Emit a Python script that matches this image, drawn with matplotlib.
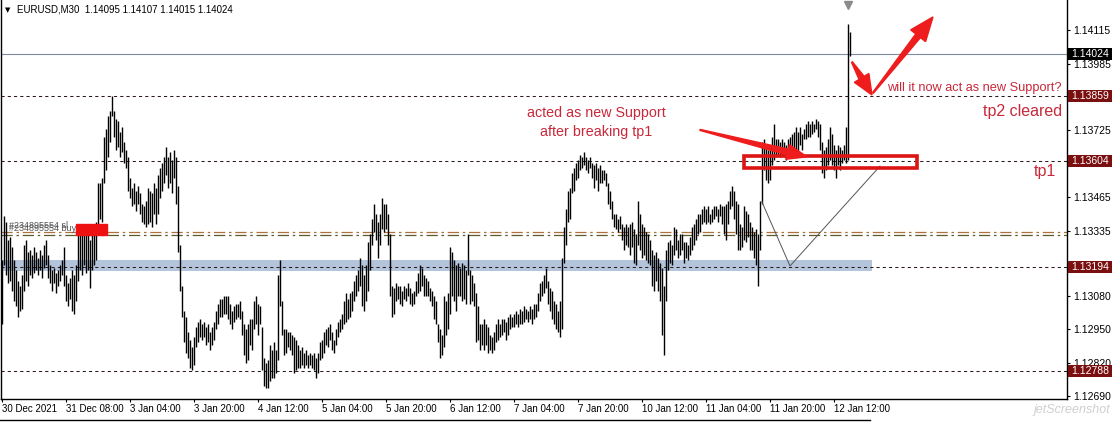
import numpy as np
import matplotlib.pyplot as plt
from matplotlib.patches import Polygon, Rectangle
from matplotlib.transforms import IdentityTransform, blended_transform_factory
from matplotlib.lines import Line2D

plt.rcParams['font.family'] = ['Liberation Sans', 'DejaVu Sans']

# EURUSD M30 bars, 30 Dec 2021 16:00 .. 12 Jan 2022 16:00
high = [
    1.1322, 1.1339, 1.1337, 1.1330, 1.1331, 1.1327, 1.1322, 1.1318, 1.1314, 1.1312,
    1.1316, 1.1328, 1.1330, 1.1325, 1.1326, 1.1324, 1.1327, 1.1325, 1.1323, 1.1326,
    1.1324, 1.1328, 1.1330, 1.1324, 1.1320, 1.1318, 1.1319, 1.1317, 1.1318, 1.1320,
    1.1322, 1.1327, 1.1316, 1.1313, 1.1315, 1.1318, 1.1316, 1.1320, 1.1334, 1.1335,
    1.1334, 1.1333, 1.1332, 1.1334, 1.1330, 1.1332, 1.1335, 1.1337, 1.1352, 1.1352,
    1.1354, 1.1370, 1.1373, 1.1378, 1.1380, 1.1386, 1.1380, 1.1377, 1.1376, 1.1372,
    1.1374, 1.1368, 1.1365, 1.1362, 1.1354, 1.1350, 1.1352, 1.1349, 1.1351, 1.1348,
    1.1344, 1.1343, 1.1345, 1.1350, 1.1349, 1.1348, 1.1352, 1.1350, 1.1355, 1.1358,
    1.1360, 1.1362, 1.1366, 1.1362, 1.1364, 1.1361, 1.1365, 1.1362, 1.1351, 1.1328,
    1.1312, 1.1302, 1.1300, 1.1294, 1.1291, 1.1288, 1.1292, 1.1296, 1.1298, 1.1299,
    1.1297, 1.1298, 1.1296, 1.1297, 1.1294, 1.1296, 1.1298,
    1.1302, 1.1305, 1.1307, 1.1307, 1.1308, 1.1308, 1.1308, 1.1305, 1.1302, 1.1304,
    1.1305, 1.1305, 1.1306, 1.1302, 1.1297, 1.1295, 1.1297, 1.1299, 1.1299, 1.1306,
    1.1308, 1.1305, 1.1304, 1.1296, 1.1284, 1.1282, 1.1283, 1.1289, 1.1287, 1.1290,
    1.1287, 1.1316, 1.1322, 1.1306, 1.1295, 1.1295, 1.1294, 1.1294, 1.1293, 1.1292,
    1.1291, 1.1289, 1.1287, 1.1288, 1.1286, 1.1287, 1.1285, 1.1286, 1.1285, 1.1286,
    1.1284, 1.1286, 1.1290, 1.1291, 1.1294, 1.1295, 1.1296, 1.1297, 1.1294, 1.1291,
    1.1295, 1.1298, 1.1299, 1.1301, 1.1306, 1.1309, 1.1307, 1.1309, 1.1310, 1.1314,
    1.1316, 1.1318, 1.1323, 1.1320, 1.1316, 1.1320, 1.1329, 1.1332, 1.1338, 1.1344,
    1.1340, 1.1337, 1.1340, 1.1346, 1.1344, 1.1344, 1.1340, 1.1332, 1.1312, 1.1311,
    1.1313, 1.1312, 1.1312, 1.1310, 1.1312, 1.1311, 1.1313, 1.1311, 1.1309, 1.1310,
    1.1314, 1.1317, 1.1320, 1.1319, 1.1316,
    1.1315, 1.1314, 1.1311, 1.1310, 1.1308, 1.1306, 1.1297, 1.1295, 1.1293, 1.1308,
    1.1306, 1.1309, 1.1327, 1.1325, 1.1322, 1.1320, 1.1321, 1.1319, 1.1321, 1.1320,
    1.1318, 1.1332, 1.1318, 1.1316, 1.1313, 1.1309, 1.1304, 1.1297, 1.1297, 1.1299,
    1.1297, 1.1296, 1.1293, 1.1292, 1.1294, 1.1297, 1.1299, 1.1297, 1.1299, 1.1299,
    1.1298, 1.1300, 1.1301, 1.1300, 1.1301, 1.1302, 1.1301, 1.1303, 1.1302, 1.1304,
    1.1303, 1.1302, 1.1304, 1.1303, 1.1305, 1.1305, 1.1309, 1.1313, 1.1314, 1.1316,
    1.1319, 1.1314, 1.1311, 1.1310, 1.1306, 1.1305, 1.1302, 1.1306, 1.1323, 1.1335,
    1.1342, 1.1349, 1.1350, 1.1356, 1.1358, 1.1360, 1.1361, 1.1363, 1.1362, 1.1364,
    1.1362, 1.1361, 1.1362, 1.1360, 1.1359, 1.1360, 1.1358, 1.1359, 1.1357, 1.1357,
    1.1356, 1.1352, 1.1349, 1.1345, 1.1340, 1.1340, 1.1338, 1.1339, 1.1336, 1.1335,
    1.1336, 1.1335, 1.1336, 1.1337, 1.1334, 1.1332, 1.1345, 1.1340, 1.1336,
    1.1335, 1.1333, 1.1332, 1.1330, 1.1326, 1.1324, 1.1325, 1.1323, 1.1321, 1.1319,
    1.1312, 1.1326, 1.1329, 1.1330, 1.1328, 1.1335, 1.1334, 1.1330, 1.1332, 1.1332,
    1.1329, 1.1329, 1.1328, 1.1331, 1.1335, 1.1336, 1.1338, 1.1340, 1.1340, 1.1342,
    1.1343, 1.1342, 1.1343, 1.1340, 1.1342, 1.1343, 1.1343, 1.1342, 1.1344, 1.1343,
    1.1343, 1.1344, 1.1345, 1.1349, 1.1351, 1.1349, 1.1345, 1.1344, 1.1336, 1.1335,
    1.1343, 1.1341, 1.1340, 1.1337, 1.1335, 1.1333, 1.1334, 1.1332, 1.1345, 1.1368,
    1.1369, 1.1367, 1.1365, 1.1366, 1.1370, 1.1375, 1.1369, 1.1369, 1.1368, 1.1369,
    1.1368, 1.1367, 1.1369, 1.1370, 1.1371, 1.1372, 1.1374, 1.1372, 1.1374, 1.1371,
    1.1373, 1.1375, 1.1376, 1.1375, 1.1376, 1.1375, 1.1377, 1.1376, 1.1375, 1.1368,
    1.1365, 1.1366, 1.1369, 1.1374, 1.1371, 1.1367, 1.1365, 1.1367, 1.1366, 1.1365,
    1.1367, 1.1374, 1.1414, 1.14107,
]
low = [
    1.1297, 1.1320, 1.1316, 1.1313, 1.1314, 1.1310, 1.1306, 1.1304, 1.1300, 1.1302,
    1.1303, 1.1310, 1.1314, 1.1312, 1.1316, 1.1315, 1.1317, 1.1318, 1.1316, 1.1318,
    1.1315, 1.1319, 1.1320, 1.1315, 1.1313, 1.1310, 1.1313, 1.1309, 1.1312, 1.1314,
    1.1316, 1.1312, 1.1306, 1.1304, 1.1307, 1.1302, 1.1301, 1.1306, 1.1314, 1.1318,
    1.1316, 1.1320, 1.1317, 1.1318, 1.1311, 1.1318, 1.1320, 1.1322, 1.1335, 1.1338,
    1.1337, 1.1352, 1.1357, 1.1362, 1.1368, 1.1378, 1.1370, 1.1365, 1.1366, 1.1362,
    1.1364, 1.1360, 1.1358, 1.1349, 1.1346, 1.1343, 1.1344, 1.1341, 1.1344, 1.1340,
    1.1337, 1.1336, 1.1335, 1.1336, 1.1337, 1.1335, 1.1340, 1.1336, 1.1340, 1.1346,
    1.1349, 1.1352, 1.1355, 1.1350, 1.1352, 1.1348, 1.1354, 1.1344, 1.1325, 1.1310,
    1.1300, 1.1290, 1.1286, 1.1284, 1.1280, 1.1279, 1.1281, 1.1288, 1.1290, 1.1292,
    1.1291, 1.1292, 1.1289, 1.1290, 1.1287, 1.1289, 1.1291,
    1.1295, 1.1297, 1.1300, 1.1300, 1.1301, 1.1301, 1.1299, 1.1297, 1.1295, 1.1298,
    1.1299, 1.1300, 1.1299, 1.1293, 1.1285, 1.1282, 1.1283, 1.1289, 1.1287, 1.1295,
    1.1297, 1.1293, 1.1297, 1.1279, 1.1273, 1.1272, 1.1272, 1.1275, 1.1276, 1.1276,
    1.1278, 1.1283, 1.1304, 1.1293, 1.1285, 1.1286, 1.1288, 1.1287, 1.1285, 1.1278,
    1.1279, 1.1280, 1.1280, 1.1281, 1.1280, 1.1281, 1.1280, 1.1281, 1.1280, 1.1279,
    1.1276, 1.1278, 1.1283, 1.1284, 1.1286, 1.1289, 1.1288, 1.1291, 1.1287, 1.1286,
    1.1289, 1.1292, 1.1294, 1.1295, 1.1297, 1.1298, 1.1299, 1.1300, 1.1302, 1.1306,
    1.1308, 1.1310, 1.1312, 1.1304, 1.1302, 1.1306, 1.1310, 1.1318, 1.1328, 1.1333,
    1.1330, 1.1323, 1.1328, 1.1334, 1.1333, 1.1334, 1.1328, 1.1308, 1.1300, 1.1301,
    1.1306, 1.1307, 1.1305, 1.1304, 1.1307, 1.1306, 1.1308, 1.1305, 1.1304, 1.1305,
    1.1308, 1.1309, 1.1310, 1.1312, 1.1308,
    1.1308, 1.1308, 1.1306, 1.1304, 1.1299, 1.1297, 1.1290, 1.1284, 1.1285, 1.1288,
    1.1293, 1.1295, 1.1301, 1.1308, 1.1306, 1.1302, 1.1308, 1.1308, 1.1306, 1.1307,
    1.1305, 1.1316, 1.1305, 1.1306, 1.1304, 1.1290, 1.1291, 1.1287, 1.1289, 1.1287,
    1.1289, 1.1286, 1.1287, 1.1286, 1.1287, 1.1290, 1.1291, 1.1292, 1.1293, 1.1294,
    1.1291, 1.1293, 1.1295, 1.1296, 1.1296, 1.1297, 1.1296, 1.1297, 1.1297, 1.1298,
    1.1299, 1.1298, 1.1299, 1.1297, 1.1299, 1.1300, 1.1302, 1.1306, 1.1308, 1.1309,
    1.1311, 1.1305, 1.1302, 1.1299, 1.1297, 1.1295, 1.1294, 1.1292, 1.1295, 1.1321,
    1.1328, 1.1337, 1.1338, 1.1348, 1.1349, 1.1353, 1.1354, 1.1357, 1.1358, 1.1359,
    1.1357, 1.1356, 1.1358, 1.1354, 1.1350, 1.1353, 1.1349, 1.1352, 1.1352, 1.1353,
    1.1351, 1.1344, 1.1342, 1.1338, 1.1335, 1.1334, 1.1333, 1.1334, 1.1330, 1.1326,
    1.1328, 1.1327, 1.1324, 1.1327, 1.1321, 1.1320, 1.1328, 1.1326, 1.1323,
    1.1324, 1.1322, 1.1321, 1.1320, 1.1312, 1.1310, 1.1314, 1.1310, 1.1306, 1.1293,
    1.1285, 1.1306, 1.1318, 1.1321, 1.1320, 1.1324, 1.1326, 1.1323, 1.1324, 1.1326,
    1.1321, 1.1323, 1.1322, 1.1324, 1.1326, 1.1328, 1.1330, 1.1332, 1.1333, 1.1336,
    1.1337, 1.1336, 1.1337, 1.1336, 1.1337, 1.1338, 1.1339, 1.1337, 1.1339, 1.1336,
    1.1332, 1.1330, 1.1336, 1.1342, 1.1343, 1.1338, 1.1332, 1.1326, 1.1326, 1.1327,
    1.1330, 1.1329, 1.1331, 1.1326, 1.1326, 1.1323, 1.1320, 1.1312, 1.1326, 1.1344,
    1.1357, 1.1353, 1.1352, 1.1353, 1.1359, 1.1361, 1.1362, 1.1363, 1.1362, 1.1363,
    1.1362, 1.1361, 1.1363, 1.1363, 1.1364, 1.1365, 1.1365, 1.1363, 1.1367, 1.1365,
    1.1369, 1.1369, 1.1370, 1.1370, 1.1371, 1.1372, 1.1373, 1.1370, 1.1365, 1.1356,
    1.1354, 1.1357, 1.1359, 1.1361, 1.1359, 1.1357, 1.1354, 1.1359, 1.1357, 1.1360,
    1.1361, 1.1360, 1.1361, 1.14015,
]

time_labels = ['30 Dec 2021', '31 Dec 08:00', '3 Jan 04:00', '3 Jan 20:00', '4 Jan 12:00',
               '5 Jan 04:00', '5 Jan 20:00', '6 Jan 12:00', '7 Jan 04:00', '7 Jan 20:00',
               '10 Jan 12:00', '11 Jan 04:00', '11 Jan 20:00', '12 Jan 12:00']
bars_per_label = 32

price_ticks = [1.14115, 1.13985, 1.13725, 1.13465, 1.13335, 1.13080, 1.12950, 1.12820, 1.12690]
bid = 1.14024
levels = [1.13859, 1.13604, 1.13194, 1.12788]          # tp2, tp1, support, low
zone = (1.13176, 1.13222)                              # blue support band
order_lines = [1.13330, 1.13318]                       # sl / buy lines
trend_x = [380, 394, 439]
trend_y = [1.13446, 1.13197, 1.13586]
box_x, box_y = (371, 457.5), (1.13579, 1.13625)

W, H = 1114, 423
fig = plt.figure(figsize=(W / 100, H / 100), dpi=100)
ax = fig.add_axes([1 / W, 24 / H, 1066 / W, 399 / H])
ax.set_xlim(-0.5, 532.5)
ax.set_ylim(1.126789, 1.142329)

idx = np.arange(len(high))
ax.vlines(idx, low, high, color='black', lw=1.0, zorder=3)

# horizontal lines
ax.axhline(bid, color='#7f8c9d', lw=0.8, zorder=2)
for lv in levels:
    ax.axhline(lv, color='#2b1a1a', lw=0.75, ls=(0, (3, 3)), zorder=2)
ax.fill_between([-0.5, 435], zone[0], zone[1], color='#b3c4db', lw=0, zorder=1)
ax.axhline(order_lines[0], color='#b0703a', lw=0.9, ls=(0, (9, 3, 2, 3)), zorder=2)
ax.axhline(order_lines[1], color='#5e5a2a', lw=0.9, ls=(0, (9, 3, 2, 3)), zorder=2)

# trade marker on the left
ax.add_patch(Rectangle((37, 1.13316), 15.5, 0.00044, color='#ee1111', zorder=4))
ax.text(3.5, 1.13356, '#234895554 sl', fontsize=6.5, color='#555555', va='center', zorder=4)
ax.text(3.5, 1.13344, '#234895554 buy', fontsize=6.5, color='#555555', va='center', zorder=4)

# annotations
ax.plot(trend_x, trend_y, color='#555555', lw=0.7, zorder=4)
ax.add_patch(Rectangle((box_x[0], box_y[0]), box_x[1] - box_x[0], box_y[1] - box_y[0],
                       fill=False, ec='#dd1414', lw=2.6, zorder=5))


def red_arrow(x0, y0, x1, y1, w1, hw, hl):
    p0 = ax.transData.transform((x0, y0))
    p1 = ax.transData.transform((x1, y1))
    d = p1 - p0
    u = d / np.hypot(*d)
    n = np.array([-u[1], u[0]])
    b = p1 - u * hl
    pts = [p0 + n * 0.5, b + n * w1 / 2, b + n * hw / 2, p1,
           b - n * hw / 2, b - n * w1 / 2, p0 - n * 0.5]
    ax.add_patch(Polygon(pts, closed=True, transform=IdentityTransform(),
                         color='#ee1c1c', zorder=6, clip_on=False))


red_arrow(349, 1.13727, 402.5, 1.13622, 6, 15, 20)
red_arrow(425, 1.13991, 435, 1.13863, 6, 17, 20)
red_arrow(435.5, 1.13871, 465.5, 1.14167, 6, 19, 24)

tc = '#c8283a'
ax.text(297, 1.13793, 'acted as new Support', color=tc, fontsize=10.3, ha='center', va='center')
ax.text(297, 1.13719, 'after breaking tp1', color=tc, fontsize=10.3, ha='center', va='center')
ax.text(442.5, 1.13890, 'will it now act as new Support?', color=tc, fontsize=9.2, va='center')
ax.text(530, 1.13800, 'tp2 cleared', color=tc, fontsize=11.5, ha='right', va='center')
ax.text(527, 1.13565, 'tp1', color=tc, fontsize=11.5, ha='right', va='center')

ax.plot([423], [1.14215], marker='v', color='#8a8a8a', ms=6, clip_on=False, zorder=6)

# axes styling
for s in ['top']:
    ax.spines[s].set_visible(False)
for s in ['left', 'right', 'bottom']:
    ax.spines[s].set_linewidth(1.0)
    ax.spines[s].set_color('black')

ax.yaxis.tick_right()
yt = price_ticks + levels + [bid]
ax.set_yticks(yt)
ax.set_yticklabels([f'{v:.5f}' for v in price_ticks] + [''] * (len(levels) + 1))
ax.tick_params(axis='y', direction='out', length=2.2, width=0.8, pad=2, labelsize=7.5)

ax.set_xticks(np.arange(len(time_labels)) * bars_per_label)
ax.set_xticklabels(time_labels, ha='left')
ax.tick_params(axis='x', direction='out', length=2.2, width=0.8, pad=1.5, labelsize=7)

# highlighted price labels
tr = blended_transform_factory(ax.transAxes, ax.transData)
hh = 6 * (1.142329 - 1.126789) / 399
for v, fc in [(bid, 'black')] + [(lv, '#7a0f0f') for lv in levels]:
    ax.add_patch(Rectangle((1 + 1 / 1066, v - hh), 44 / 1066, 2 * hh, transform=tr,
                           fc=fc, ec='none', clip_on=False, zorder=7))
    ax.text(1 + 4 / 1066, v, f'{v:.5f}', transform=tr, color='white', fontsize=7.5,
            va='center', ha='left', clip_on=False, zorder=8)

# header and frame bits
fig.text(5 / W, 1 - 10 / H, '\u25bc', fontsize=5, va='center', family='DejaVu Sans')
fig.text(17 / W, 1 - 10 / H, 'EURUSD,M30  1.14095 1.14107 1.14015 1.14024', fontsize=7, va='center')
fig.add_artist(Line2D([0, 870 / W], [3 / H, 3 / H], color='black', lw=1.0))
fig.text(1110 / W, 13 / H, 'jetScreenshot', fontsize=9, color='#cfcfcf', style='italic',
         ha='right', va='center')

fig.savefig('out.png', dpi=100)
